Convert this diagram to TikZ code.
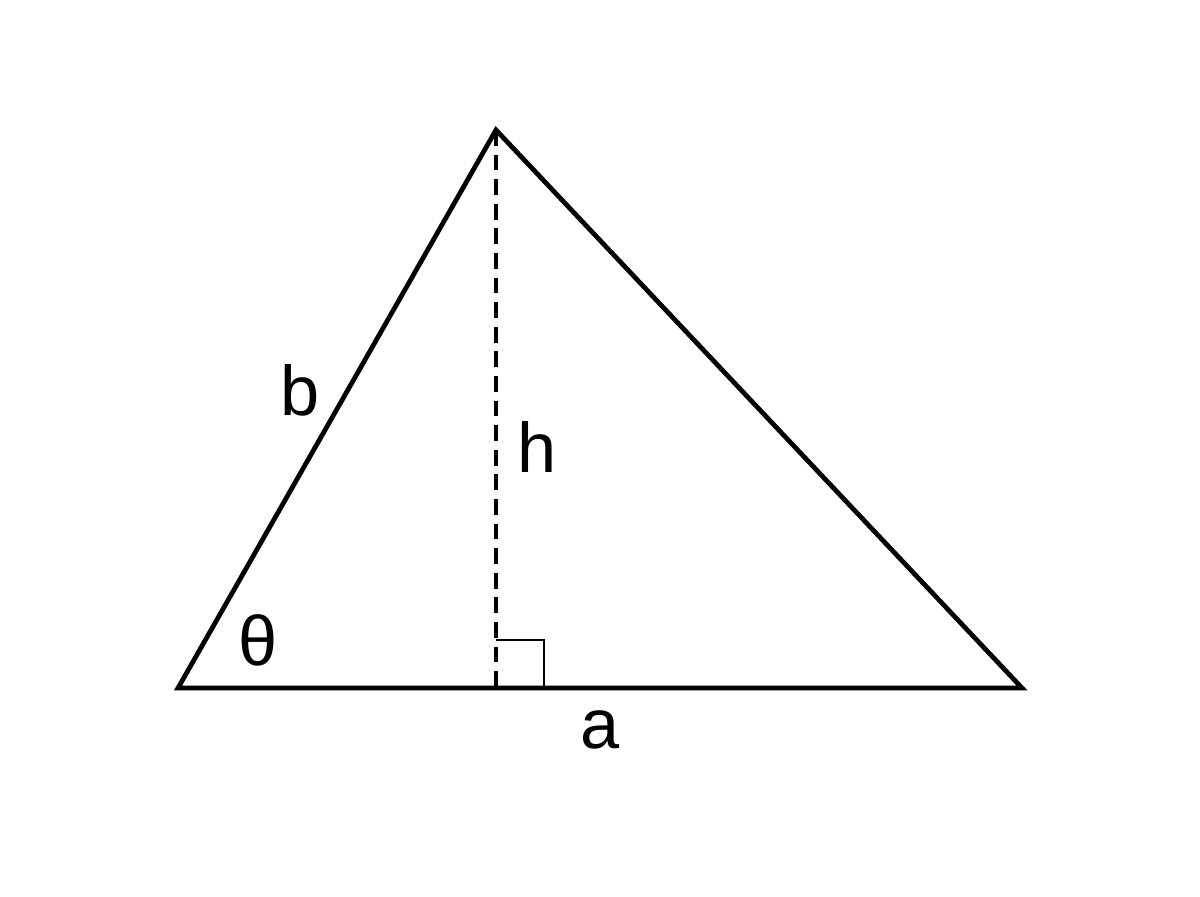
\documentclass[tikz,border=0pt]{standalone}
\usepackage{fontspec}
\setmainfont{Liberation Sans}
\usetikzlibrary{positioning}

\tikzset{
	side/.style={line width=2.7pt, line join=miter},
	height line/.style={line width=2.6pt, dash pattern=on 9pt off 5pt},
	angle mark/.style={line width=1.3pt},
	letter/.style={inner sep=0pt, font=\fontsize{40}{41}\selectfont}
}

\begin{document}
\begin{tikzpicture}
	\useasboundingbox (0,0) rectangle (24,17.92);
	\coordinate (L) at (3.56,4.16);
	\coordinate (T) at (9.92,15.32);
	\coordinate (R) at (20.44,4.16);
	\coordinate (F) at (9.92,4.16);
	\draw[side] (L) -- (T) -- (R) -- cycle;
	\draw[height line] (T) -- (F);
	\draw[angle mark] (F) ++(0,0.96) -| ++(0.96,-0.96);
	\node[letter] (b) at (6.0,10.12) {b};
	\node[letter] (h) at (10.74,8.98) {h};
	\node[letter] (theta) at (5.16,5.12) {θ};
	\node[letter] (a) at (12.0,3.32) {a};
\end{tikzpicture}
\end{document}
